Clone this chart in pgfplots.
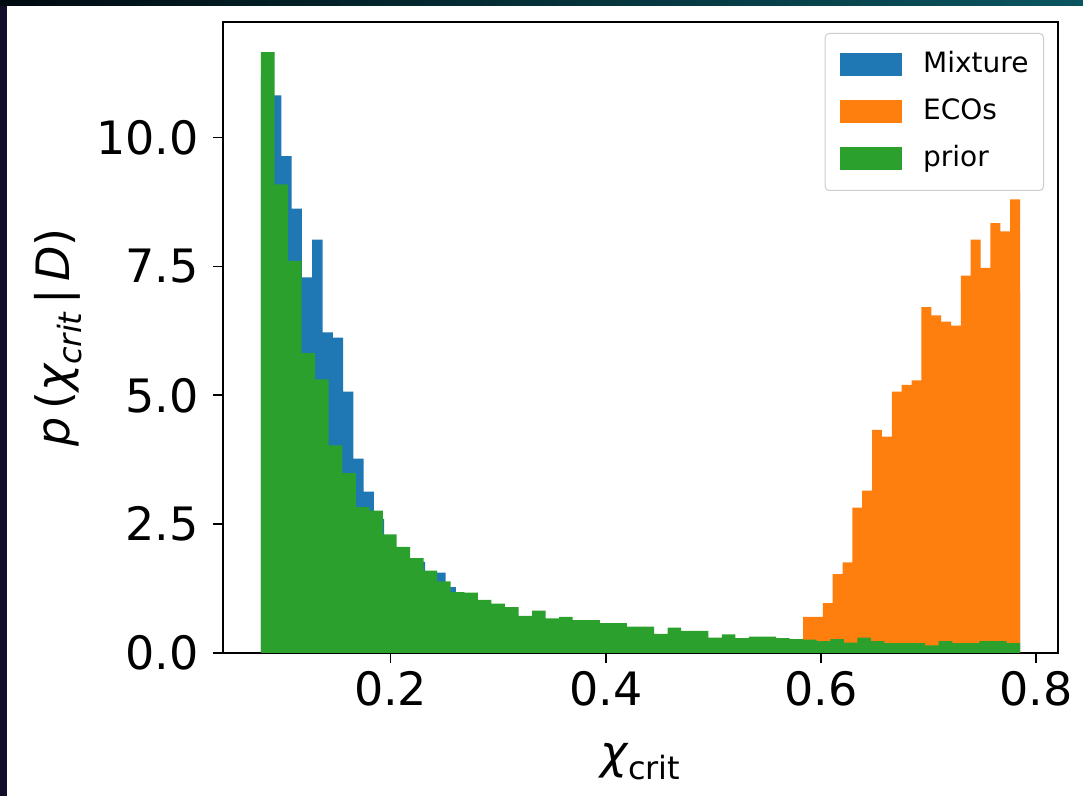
\documentclass[border=0pt]{standalone}
\usepackage{fontspec}
\setmainfont{DejaVu Sans}
\usepackage{pgfplots}
\pgfplotsset{compat=1.18}
\definecolor{mplblue}{HTML}{1F77B4}
\definecolor{mplorange}{HTML}{FF7F0E}
\definecolor{mplgreen}{HTML}{2CA02C}
\definecolor{legframe}{HTML}{CCCCCC}
\definecolor{topdark}{HTML}{000A10}
\definecolor{topteal}{HTML}{0A5560}
\definecolor{leftnavy}{HTML}{120E2A}
\begin{document}
\begin{tikzpicture}
\fill[white] (0,0) rectangle (1083bp,796bp);
\shade[left color=topdark, right color=topteal] (0,790bp) rectangle (1083bp,796bp);
\fill[leftnavy] (0,0) rectangle (7bp,790bp);
\begin{axis}[
  at={(223bp,143bp)}, anchor=south west,
  scale only axis, width=835bp, height=631bp,
  xmin=0.04405, xmax=0.82064, ymin=0, ymax=12.243,
  xtick={0.2,0.4,0.6,0.8}, ytick={0,2.5,5,7.5,10},
  xtick pos=left, ytick pos=left,
  tick align=outside, major tick length=10bp,
  every tick/.style={black, line width=1.6bp},
  axis line style={line width=1.6bp},
  /pgf/number format/.cd, fixed, fixed zerofill, precision=1, assume math mode=true,
  /pgfplots/.cd,
  tick label style={font=\fontsize{46bp}{55bp}\selectfont, inner sep=0pt},
  xticklabel style={anchor=north, yshift=-8bp},
  yticklabel style={anchor=east, xshift=-14bp},
  xlabel={{\itshape χ}\raisebox{-0.25em}{\fontsize{32bp}{38bp}\selectfont crit}},
  ylabel={{\itshape p}\,({\itshape χ}\raisebox{-0.25em}{\fontsize{32bp}{38bp}\selectfont\itshape crit}\,|\,{\itshape D})},
  label style={font=\fontsize{46bp}{55bp}\selectfont},
  xlabel style={at={([yshift=-115bp]axis description cs:0.5,0)}, anchor=base},
  ylabel style={at={([xshift=-153bp]axis description cs:0,0.5)}, anchor=base, rotate=0},
  legend image code/.code={\fill[#1, fill opacity=1, sharp corners] (0bp,-11.5bp) rectangle (62bp,11.5bp);},
  legend style={draw=legframe, rounded corners=4bp, line width=1bp, fill=white,
    fill opacity=0.8, draw opacity=1, text opacity=1,
    font=\fontsize{28bp}{34bp}\selectfont,
    at={(1,1)}, anchor=north east, xshift=-14bp, yshift=-11bp,
    inner xsep=15bp, inner ysep=18bp, row sep=20bp,
    nodes={inner sep=0pt, text height=21bp, text depth=6bp},
    /tikz/every odd column/.append style={column sep=21bp}},
  legend cell align=left,
]
\addplot[const plot, fill=mplblue, draw=none] coordinates {
(0.07935,11.2) (0.08889,10.82) (0.09843,9.64) (0.10797,8.62) (0.11751,7.29) (0.12705,8.02) (0.13659,6.22) (0.14613,6.12) (0.15567,5.07) (0.16521,3.77) (0.17475,3.13) (0.18429,2.6) (0.19383,2.2) (0.20338,1.95) (0.21292,1.75) (0.22246,1.77) (0.23200,1.5) (0.24154,1.56) (0.25108,1.28) (0.26062,1.1) (0.27016,1.08) (0.27970,0.98) (0.28924,0.92) (0.29878,0.86) (0.30832,0.82) (0.31786,0.68) (0.32740,0.68) (0.33694,0.64) (0.34648,0.63) (0.35602,0.64) (0.36557,0.6) (0.37511,0.6) (0.38465,0.6) (0.39419,0.55) (0.40373,0.55) (0.41327,0.48) (0.42281,0.48) (0.43235,0.48) (0.44189,0.35) (0.45143,0.35) (0.46097,0.42) (0.47051,0.4) (0.48005,0.4) (0.48959,0.28) (0.49913,0.28) (0.50867,0.33) (0.51821,0.27) (0.52776,0.27) (0.53730,0.3) (0.54684,0.3) (0.55638,0.27) (0.56592,0.25) (0.57546,0.25) (0.58500,0.5) (0.59454,0.55) (0.60408,0.8) (0.61362,1.2) (0.62316,1.5) (0.63270,2.3) (0.64224,2.6) (0.65178,3.3) (0.66132,3.5) (0.67086,4.0) (0.68040,4.3) (0.68995,4.5) (0.69949,5.2) (0.70903,5.0) (0.71857,5.1) (0.72811,5.3) (0.73765,6.0) (0.74719,6.2) (0.75673,6.4) (0.76627,6.8) (0.77581,7.0) (0.78535,7.0)
} \closedcycle;
\addlegendentry{Mixture}
\addplot[const plot, fill=mplorange, draw=none] coordinates {
(0.58353,0.70) (0.59270,0.70) (0.60188,0.97) (0.61105,1.53) (0.62022,1.76) (0.62940,2.82) (0.63857,3.15) (0.64774,4.33) (0.65691,4.20) (0.66609,5.07) (0.67526,5.20) (0.68443,5.29) (0.69361,6.71) (0.70278,6.55) (0.71195,6.43) (0.72113,6.35) (0.73030,7.32) (0.73947,8.02) (0.74865,7.47) (0.75782,8.34) (0.76699,8.18) (0.77617,8.80) (0.78534,8.80)
} \closedcycle;
\addlegendentry{ECOs}
\addplot[const plot, fill=mplgreen, draw=none] coordinates {
(0.07935,11.66) (0.09196,9.09) (0.10456,7.61) (0.11717,5.82) (0.12978,5.31) (0.14239,4.03) (0.15499,3.49) (0.16760,2.83) (0.18021,2.76) (0.19281,2.30) (0.20542,2.06) (0.21803,1.84) (0.23063,1.60) (0.24324,1.39) (0.25585,1.18) (0.26846,1.17) (0.28106,1.03) (0.29367,0.96) (0.30628,0.89) (0.31888,0.72) (0.33149,0.82) (0.34410,0.67) (0.35670,0.70) (0.36931,0.64) (0.38192,0.64) (0.39453,0.58) (0.40713,0.58) (0.41974,0.51) (0.43235,0.51) (0.44495,0.37) (0.45756,0.49) (0.47017,0.43) (0.48277,0.43) (0.49538,0.30) (0.50799,0.36) (0.52060,0.29) (0.53320,0.32) (0.54581,0.32) (0.55842,0.29) (0.57102,0.27) (0.58363,0.26) (0.59624,0.23) (0.60884,0.27) (0.62145,0.20) (0.63406,0.30) (0.64667,0.23) (0.65927,0.19) (0.67188,0.19) (0.68449,0.19) (0.69709,0.15) (0.70970,0.23) (0.72231,0.19) (0.73491,0.19) (0.74752,0.23) (0.76013,0.23) (0.77274,0.19) (0.78534,0.19)
} \closedcycle;
\addlegendentry{prior}
\end{axis}
\end{tikzpicture}
\end{document}
